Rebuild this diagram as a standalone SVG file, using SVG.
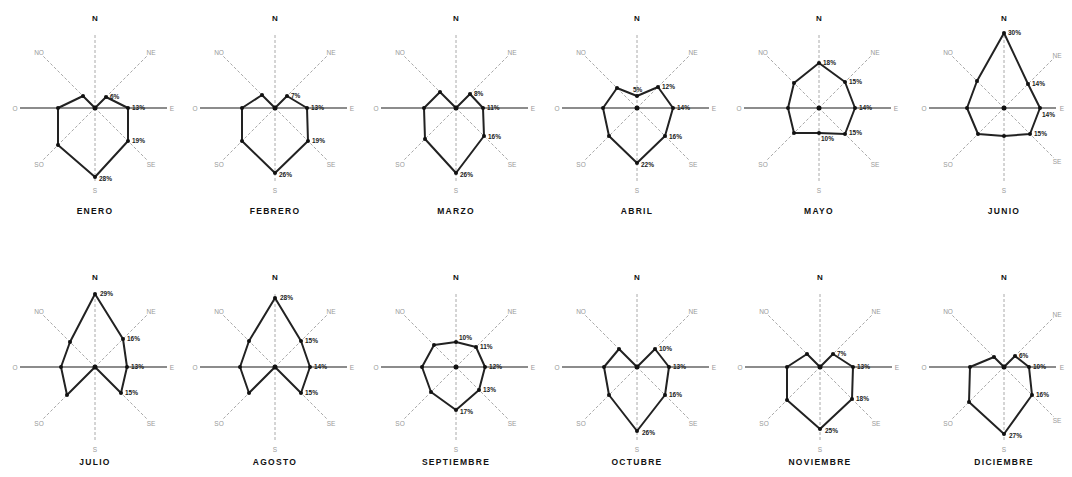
<svg xmlns="http://www.w3.org/2000/svg" xmlns:xlink="http://www.w3.org/1999/xlink" width="1072" height="477" viewBox="0 0 1072 477">
<style>
.ax{stroke:#aaa;stroke-width:1;stroke-dasharray:3 2;fill:none}
.axh{stroke:#666;stroke-width:1.3;fill:none}
.poly{fill:none;stroke:#222;stroke-width:2;stroke-linejoin:round}
.dot{fill:#111}
.ctr{fill:#111}
.lab{font-family:"Liberation Sans",Arial,sans-serif;font-size:6.5px;fill:#999;text-anchor:middle;dominant-baseline:central}
.nlab{font-family:"Liberation Sans",Arial,sans-serif;font-size:8px;font-weight:bold;fill:#111;text-anchor:middle;dominant-baseline:central}
.val{font-family:"Liberation Sans",Arial,sans-serif;font-size:6.5px;font-weight:bold;fill:#222}
.title{font-family:"Liberation Sans",Arial,sans-serif;font-size:8.5px;font-weight:bold;fill:#111;text-anchor:middle;letter-spacing:1.3px}
</style>
<defs>
<g id="axes">
<line class="ax" x1="0" y1="0" x2="0" y2="-75"/>
<line class="ax" x1="0" y1="0" x2="0" y2="75"/>
<line class="ax" x1="0" y1="0" x2="53" y2="-53"/>
<line class="ax" x1="0" y1="0" x2="53" y2="53"/>
<line class="ax" x1="0" y1="0" x2="-53" y2="53"/>
<line class="ax" x1="0" y1="0" x2="-53" y2="-53"/>
<line class="axh" x1="-75" y1="0" x2="72" y2="0"/>
</g>
<g id="axes-r">
<line class="ax" x1="0" y1="0" x2="0" y2="-75"/>
<line class="ax" x1="0" y1="0" x2="0" y2="75"/>
<line class="ax" x1="0" y1="0" x2="50" y2="-50"/>
<line class="ax" x1="0" y1="0" x2="50" y2="50"/>
<line class="ax" x1="0" y1="0" x2="-53" y2="53"/>
<line class="ax" x1="0" y1="0" x2="-53" y2="-53"/>
<line class="axh" x1="-75" y1="0" x2="52" y2="0"/>
</g>
</defs>
<rect width="1072" height="477" fill="#fff"/>

<g id="enero" transform="translate(95,108)">
<use href="#axes"/>
<text class="nlab" x="0" y="-90">N</text><text class="lab" x="56" y="-56">NE</text><text class="lab" x="77" y="0">E</text><text class="lab" x="56" y="56">SE</text><text class="lab" x="0" y="82">S</text><text class="lab" x="-56" y="56">SO</text><text class="lab" x="-80" y="0">O</text><text class="lab" x="-56" y="-56">NO</text>
<polygon class="poly" points="0,0 11,-11 33,0 33,33 0,69 -37,37 -37,0 -12,-12"/>
<circle class="ctr" cx="0" cy="0" r="2.5"/>
<circle class="dot" cx="11" cy="-11" r="2"/><circle class="dot" cx="33" cy="0" r="2"/><circle class="dot" cx="33" cy="33" r="2"/><circle class="dot" cx="0" cy="69" r="2"/><circle class="dot" cx="-37" cy="37" r="2"/><circle class="dot" cx="-37" cy="0" r="2"/><circle class="dot" cx="-12" cy="-12" r="2"/>
<text class="val" x="15" y="-9">6%</text><text class="val" x="37" y="2">13%</text><text class="val" x="37" y="35">19%</text><text class="val" x="4" y="73">28%</text>
<text class="title" x="0" y="106">ENERO</text>
</g>

<g id="febrero" transform="translate(275,108)">
<use href="#axes"/>
<text class="nlab" x="0" y="-90">N</text><text class="lab" x="56" y="-56">NE</text><text class="lab" x="77" y="0">E</text><text class="lab" x="56" y="56">SE</text><text class="lab" x="0" y="82">S</text><text class="lab" x="-56" y="56">SO</text><text class="lab" x="-80" y="0">O</text><text class="lab" x="-56" y="-56">NO</text>
<polygon class="poly" points="0,0 12,-12 32,0 33,33 0,65 -33,33 -33,0 -13,-13"/>
<circle class="ctr" cx="0" cy="0" r="2.5"/>
<circle class="dot" cx="12" cy="-12" r="2"/><circle class="dot" cx="32" cy="0" r="2"/><circle class="dot" cx="33" cy="33" r="2"/><circle class="dot" cx="0" cy="65" r="2"/><circle class="dot" cx="-33" cy="33" r="2"/><circle class="dot" cx="-33" cy="0" r="2"/><circle class="dot" cx="-13" cy="-13" r="2"/>
<text class="val" x="16" y="-10">7%</text><text class="val" x="36" y="2">13%</text><text class="val" x="37" y="35">19%</text><text class="val" x="4" y="69">26%</text>
<text class="title" x="0" y="106">FEBRERO</text>
</g>

<g id="marzo" transform="translate(456,108)">
<use href="#axes"/>
<text class="nlab" x="0" y="-90">N</text><text class="lab" x="56" y="-56">NE</text><text class="lab" x="77" y="0">E</text><text class="lab" x="56" y="56">SE</text><text class="lab" x="0" y="82">S</text><text class="lab" x="-56" y="56">SO</text><text class="lab" x="-80" y="0">O</text><text class="lab" x="-56" y="-56">NO</text>
<polygon class="poly" points="0,0 14,-14 27,0 28,28 0,65 -31,31 -32,0 -16,-16"/>
<circle class="ctr" cx="0" cy="0" r="2.5"/>
<circle class="dot" cx="14" cy="-14" r="2"/><circle class="dot" cx="27" cy="0" r="2"/><circle class="dot" cx="28" cy="28" r="2"/><circle class="dot" cx="0" cy="65" r="2"/><circle class="dot" cx="-31" cy="31" r="2"/><circle class="dot" cx="-32" cy="0" r="2"/><circle class="dot" cx="-16" cy="-16" r="2"/>
<text class="val" x="18" y="-12">8%</text><text class="val" x="31" y="2">11%</text><text class="val" x="32" y="31">16%</text><text class="val" x="4" y="69">26%</text>
<text class="title" x="0" y="106">MARZO</text>
</g>

<g id="abril" transform="translate(637,108)">
<use href="#axes"/>
<text class="nlab" x="0" y="-90">N</text><text class="lab" x="56" y="-56">NE</text><text class="lab" x="77" y="0">E</text><text class="lab" x="56" y="56">SE</text><text class="lab" x="0" y="82">S</text><text class="lab" x="-56" y="56">SO</text><text class="lab" x="-80" y="0">O</text><text class="lab" x="-56" y="-56">NO</text>
<polygon class="poly" points="0,-12 21,-21 36,0 28,28 0,55 -28,28 -34,0 -20,-20"/>
<circle class="ctr" cx="0" cy="0" r="2.5"/>
<circle class="dot" cx="0" cy="-12" r="2"/><circle class="dot" cx="21" cy="-21" r="2"/><circle class="dot" cx="36" cy="0" r="2"/><circle class="dot" cx="28" cy="28" r="2"/><circle class="dot" cx="0" cy="55" r="2"/><circle class="dot" cx="-28" cy="28" r="2"/><circle class="dot" cx="-34" cy="0" r="2"/><circle class="dot" cx="-20" cy="-20" r="2"/>
<text class="val" x="-4" y="-16">5%</text><text class="val" x="25" y="-19">12%</text><text class="val" x="40" y="2">14%</text><text class="val" x="32" y="31">16%</text><text class="val" x="4" y="59">22%</text>
<text class="title" x="0" y="106">ABRIL</text>
</g>

<g id="mayo" transform="translate(819,108)">
<use href="#axes"/>
<text class="nlab" x="0" y="-90">N</text><text class="lab" x="56" y="-56">NE</text><text class="lab" x="77" y="0">E</text><text class="lab" x="56" y="56">SE</text><text class="lab" x="0" y="82">S</text><text class="lab" x="-56" y="56">SO</text><text class="lab" x="-80" y="0">O</text><text class="lab" x="-56" y="-56">NO</text>
<polygon class="poly" points="0,-45 26,-26 36,0 26,26 0,25 -25,25 -31,0 -25,-25"/>
<circle class="ctr" cx="0" cy="0" r="2.5"/>
<circle class="dot" cx="0" cy="-45" r="2"/><circle class="dot" cx="26" cy="-26" r="2"/><circle class="dot" cx="36" cy="0" r="2"/><circle class="dot" cx="26" cy="26" r="2"/><circle class="dot" cx="0" cy="25" r="2"/><circle class="dot" cx="-25" cy="25" r="2"/><circle class="dot" cx="-31" cy="0" r="2"/><circle class="dot" cx="-25" cy="-25" r="2"/>
<text class="val" x="4" y="-43">18%</text><text class="val" x="30" y="-24">15%</text><text class="val" x="40" y="2">14%</text><text class="val" x="30" y="27">15%</text><text class="val" x="2" y="33">10%</text>
<text class="title" x="0" y="106">MAYO</text>
</g>

<g id="junio" transform="translate(1004,108)">
<use href="#axes-r"/>
<text class="nlab" x="0" y="-90">N</text><text class="lab" x="53" y="-53">NE</text><text class="lab" x="58" y="0">E</text><text class="lab" x="53" y="53">SE</text><text class="lab" x="0" y="82">S</text><text class="lab" x="-56" y="56">SO</text><text class="lab" x="-80" y="0">O</text><text class="lab" x="-56" y="-56">NO</text>
<polygon class="poly" points="0,-75 24,-24 36,0 26,26 0,28 -26,26 -37,0 -27,-27"/>
<circle class="ctr" cx="0" cy="0" r="2.5"/>
<circle class="dot" cx="0" cy="-75" r="2"/><circle class="dot" cx="24" cy="-24" r="2"/><circle class="dot" cx="36" cy="0" r="2"/><circle class="dot" cx="26" cy="26" r="2"/><circle class="dot" cx="0" cy="28" r="2"/><circle class="dot" cx="-26" cy="26" r="2"/><circle class="dot" cx="-37" cy="0" r="2"/><circle class="dot" cx="-27" cy="-27" r="2"/>
<text class="val" x="4" y="-73">30%</text><text class="val" x="28" y="-22">14%</text><text class="val" x="38" y="9">14%</text><text class="val" x="30" y="28">15%</text>
<text class="title" x="0" y="106">JUNIO</text>
</g>

<g id="julio" transform="translate(95,367)">
<use href="#axes"/>
<text class="nlab" x="0" y="-90">N</text><text class="lab" x="56" y="-56">NE</text><text class="lab" x="77" y="0">E</text><text class="lab" x="56" y="56">SE</text><text class="lab" x="0" y="82">S</text><text class="lab" x="-56" y="56">SO</text><text class="lab" x="-80" y="0">O</text><text class="lab" x="-56" y="-56">NO</text>
<polygon class="poly" points="0,-73 28,-28 32,0 26,26 0,0 -28,28 -34,0 -25,-25"/>
<circle class="ctr" cx="0" cy="0" r="2.5"/>
<circle class="dot" cx="0" cy="-73" r="2"/><circle class="dot" cx="28" cy="-28" r="2"/><circle class="dot" cx="32" cy="0" r="2"/><circle class="dot" cx="26" cy="26" r="2"/><circle class="dot" cx="-28" cy="28" r="2"/><circle class="dot" cx="-34" cy="0" r="2"/><circle class="dot" cx="-25" cy="-25" r="2"/>
<text class="val" x="5" y="-71">29%</text><text class="val" x="32" y="-26">16%</text><text class="val" x="36" y="2">13%</text><text class="val" x="30" y="28">15%</text>
<text class="title" x="0" y="98">JULIO</text>
</g>

<g id="agosto" transform="translate(275,367)">
<use href="#axes"/>
<text class="nlab" x="0" y="-90">N</text><text class="lab" x="56" y="-56">NE</text><text class="lab" x="77" y="0">E</text><text class="lab" x="56" y="56">SE</text><text class="lab" x="0" y="82">S</text><text class="lab" x="-56" y="56">SO</text><text class="lab" x="-80" y="0">O</text><text class="lab" x="-56" y="-56">NO</text>
<polygon class="poly" points="0,-69 26,-26 35,0 26,26 0,0 -26,26 -35,0 -26,-26"/>
<circle class="ctr" cx="0" cy="0" r="2.5"/>
<circle class="dot" cx="0" cy="-69" r="2"/><circle class="dot" cx="26" cy="-26" r="2"/><circle class="dot" cx="35" cy="0" r="2"/><circle class="dot" cx="26" cy="26" r="2"/><circle class="dot" cx="-26" cy="26" r="2"/><circle class="dot" cx="-35" cy="0" r="2"/><circle class="dot" cx="-26" cy="-26" r="2"/>
<text class="val" x="5" y="-67">28%</text><text class="val" x="30" y="-24">15%</text><text class="val" x="39" y="2">14%</text><text class="val" x="30" y="28">15%</text>
<text class="title" x="0" y="98">AGOSTO</text>
</g>

<g id="septiembre" transform="translate(456,367)">
<use href="#axes"/>
<text class="nlab" x="0" y="-90">N</text><text class="lab" x="56" y="-56">NE</text><text class="lab" x="77" y="0">E</text><text class="lab" x="56" y="56">SE</text><text class="lab" x="0" y="82">S</text><text class="lab" x="-56" y="56">SO</text><text class="lab" x="-80" y="0">O</text><text class="lab" x="-56" y="-56">NO</text>
<polygon class="poly" points="0,-25 20,-20 29,0 23,23 0,43 -25,25 -34,0 -22,-22"/>
<circle class="ctr" cx="0" cy="0" r="2.5"/>
<circle class="dot" cx="0" cy="-25" r="2"/><circle class="dot" cx="20" cy="-20" r="2"/><circle class="dot" cx="29" cy="0" r="2"/><circle class="dot" cx="23" cy="23" r="2"/><circle class="dot" cx="0" cy="43" r="2"/><circle class="dot" cx="-25" cy="25" r="2"/><circle class="dot" cx="-34" cy="0" r="2"/><circle class="dot" cx="-22" cy="-22" r="2"/>
<text class="val" x="3" y="-27">10%</text><text class="val" x="24" y="-18">11%</text><text class="val" x="33" y="2">12%</text><text class="val" x="27" y="25">13%</text><text class="val" x="4" y="47">17%</text>
<text class="title" x="0" y="98">SEPTIEMBRE</text>
</g>

<g id="octubre" transform="translate(637,367)">
<use href="#axes"/>
<text class="nlab" x="0" y="-90">N</text><text class="lab" x="56" y="-56">NE</text><text class="lab" x="77" y="0">E</text><text class="lab" x="56" y="56">SE</text><text class="lab" x="0" y="82">S</text><text class="lab" x="-56" y="56">SO</text><text class="lab" x="-80" y="0">O</text><text class="lab" x="-56" y="-56">NO</text>
<polygon class="poly" points="0,0 18,-18 32,0 28,28 0,64 -28,28 -33,0 -18,-18"/>
<circle class="ctr" cx="0" cy="0" r="2.5"/>
<circle class="dot" cx="18" cy="-18" r="2"/><circle class="dot" cx="32" cy="0" r="2"/><circle class="dot" cx="28" cy="28" r="2"/><circle class="dot" cx="0" cy="64" r="2"/><circle class="dot" cx="-28" cy="28" r="2"/><circle class="dot" cx="-33" cy="0" r="2"/><circle class="dot" cx="-18" cy="-18" r="2"/>
<text class="val" x="22" y="-16">10%</text><text class="val" x="36" y="2">13%</text><text class="val" x="32" y="30">16%</text><text class="val" x="5" y="68">26%</text>
<text class="title" x="0" y="98">OCTUBRE</text>
</g>

<g id="noviembre" transform="translate(820,367)">
<use href="#axes"/>
<text class="nlab" x="0" y="-90">N</text><text class="lab" x="56" y="-56">NE</text><text class="lab" x="77" y="0">E</text><text class="lab" x="56" y="56">SE</text><text class="lab" x="0" y="82">S</text><text class="lab" x="-56" y="56">SO</text><text class="lab" x="-80" y="0">O</text><text class="lab" x="-56" y="-56">NO</text>
<polygon class="poly" points="0,0 13,-13 33,0 32,32 0,62 -33,33 -33,0 -13,-13"/>
<circle class="ctr" cx="0" cy="0" r="2.5"/>
<circle class="dot" cx="13" cy="-13" r="2"/><circle class="dot" cx="33" cy="0" r="2"/><circle class="dot" cx="32" cy="32" r="2"/><circle class="dot" cx="0" cy="62" r="2"/><circle class="dot" cx="-33" cy="33" r="2"/><circle class="dot" cx="-33" cy="0" r="2"/><circle class="dot" cx="-13" cy="-13" r="2"/>
<text class="val" x="17" y="-11">7%</text><text class="val" x="37" y="2">13%</text><text class="val" x="36" y="34">18%</text><text class="val" x="5" y="66">25%</text>
<text class="title" x="0" y="98">NOVIEMBRE</text>
</g>

<g id="diciembre" transform="translate(1004,367)">
<use href="#axes-r"/>
<text class="nlab" x="0" y="-90">N</text><text class="lab" x="53" y="-53">NE</text><text class="lab" x="58" y="0">E</text><text class="lab" x="53" y="53">SE</text><text class="lab" x="0" y="82">S</text><text class="lab" x="-56" y="56">SO</text><text class="lab" x="-80" y="0">O</text><text class="lab" x="-56" y="-56">NO</text>
<polygon class="poly" points="0,0 11,-11 25,0 28,28 0,67 -35,35 -34,0 -10,-10"/>
<circle class="ctr" cx="0" cy="0" r="2.5"/>
<circle class="dot" cx="11" cy="-11" r="2"/><circle class="dot" cx="25" cy="0" r="2"/><circle class="dot" cx="28" cy="28" r="2"/><circle class="dot" cx="0" cy="67" r="2"/><circle class="dot" cx="-35" cy="35" r="2"/><circle class="dot" cx="-34" cy="0" r="2"/><circle class="dot" cx="-10" cy="-10" r="2"/>
<text class="val" x="15" y="-9">6%</text><text class="val" x="29" y="2">10%</text><text class="val" x="32" y="30">16%</text><text class="val" x="5" y="71">27%</text>
<text class="title" x="0" y="98">DICIEMBRE</text>
</g>
</svg>
